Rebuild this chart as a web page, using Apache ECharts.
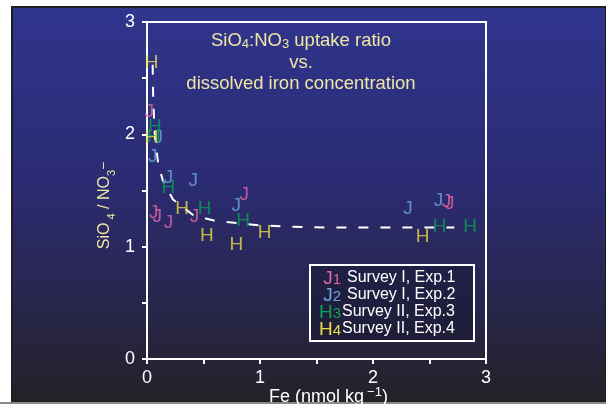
<!DOCTYPE html>
<html>
<head>
<meta charset="utf-8">
<script src="https://cdn.jsdelivr.net/npm/echarts@6/dist/echarts.min.js"></script>
<style>
html,body{margin:0;padding:0;background:#fff;}
#c{width:606px;height:404px;}
</style>
</head>
<body>
<div id="c"></div>
<script>
// ---- data ----
var xTicks = [0, 1, 2, 3];
var yTicks = [0, 1, 2, 3];
var j1X = [0.02, 0.06, 0.09, 0.19, 0.42, 0.86, 2.65, 2.68];
var j1Y = [2.20, 1.30, 1.27, 1.21, 1.27, 1.46, 1.40, 1.38];
var j2X = [0.10, 0.05, 0.19, 0.41, 0.79, 2.31, 2.58];
var j2Y = [1.97, 1.80, 1.61, 1.59, 1.36, 1.34, 1.41];
var h3X = [0.07, 0.06, 0.19, 0.51, 0.85, 2.59, 2.86];
var h3Y = [2.07, 1.98, 1.52, 1.34, 1.23, 1.18, 1.18];
var h4X = [0.04, 0.04, 0.31, 0.53, 0.79, 1.04, 2.44];
var h4Y = [2.64, 1.97, 1.34, 1.10, 1.02, 1.12, 1.09];
var fitX = [0.05, 0.055, 0.07, 0.10, 0.14, 0.23, 0.41, 0.60, 0.80, 1.00, 1.20, 1.60, 2.00, 2.40, 2.72];
var fitY = [2.62, 2.30, 1.98, 1.73, 1.59, 1.42, 1.28, 1.23, 1.21, 1.19, 1.18, 1.17, 1.17, 1.17, 1.17];
var legendLetters = ['J', 'J', 'H', 'H'];
var legendNums = ['1', '2', '3', '4'];
var legendTexts = ['Survey I, Exp.1', 'Survey I, Exp.2', 'Survey II, Exp.3', 'Survey II, Exp.4'];
var colors = ['#e067a2', '#6ea6dc', '#0aa055', '#ecdc44'];

function pairs(xs, ys) { return xs.map(function (x, i) { return [x, ys[i]]; }); }

var FONT = 'Liberation Sans, Arial, Helvetica, sans-serif';
var titleColor = '#efe6a4';

function markerSeries(name, xs, ys, letter, color) {
  return {
    name: name, type: 'scatter', data: pairs(xs, ys),
    symbol: 'circle', symbolSize: 1, itemStyle: { color: 'rgba(0,0,0,0)' },
    label: { show: true, position: 'inside', formatter: letter, color: color,
      fontSize: 19, fontFamily: FONT },
    labelLayout: { hideOverlap: false },
    z: 5
  };
}

var legendGraphics = [];
var rowY = [278, 295, 312, 329];
var textX = [347, 347, 342, 342];
for (var i = 0; i < 4; i++) {
  legendGraphics.push({
    type: 'text', x: 341, y: rowY[i],
    style: { text: '{m|' + legendLetters[i] + '}{s|' + legendNums[i] + '}',
      align: 'right', verticalAlign: 'middle',
      rich: {
        m: { fontSize: 19, fontFamily: FONT, fill: colors[i], lineHeight: 18, verticalAlign: 'top' },
        s: { fontSize: 15, fontFamily: FONT, fill: colors[i], lineHeight: 10, verticalAlign: 'bottom' }
      } },
    z: 10
  });
  legendGraphics.push({
    type: 'text', x: textX[i], y: rowY[i],
    style: { text: legendTexts[i], fill: '#ffffff', fontSize: 16, fontFamily: FONT,
      align: 'left', verticalAlign: 'middle' },
    z: 10
  });
}

var chart = echarts.init(document.getElementById('c'), null, { renderer: 'canvas' });
chart.setOption({
  animation: false,
  backgroundColor: 'transparent',
  grid: { left: 147, right: 120, top: 22, bottom: 45, containLabel: false, outerBoundsMode: 'none',
    show: true, borderColor: '#ffffff', borderWidth: 2, backgroundColor: 'transparent' },
  xAxis: {
    type: 'value', min: 0, max: 3, interval: 0.5,
    axisLine: { show: true, lineStyle: { color: '#ffffff', width: 2 } },
    axisTick: { show: true, length: 5, lineStyle: { color: '#ffffff', width: 2 } },
    axisLabel: { color: '#ffffff', fontSize: 18, fontFamily: FONT, margin: 10,
      formatter: function (v) { return xTicks.indexOf(v) >= 0 ? String(v) : ''; } },
    splitLine: { show: false },
    name: '{f|Fe (nmol kg}{p|\u22121}{n|)}', nameLocation: 'middle', nameGap: 27, nameMoveOverlap: false,
    nameTextStyle: { color: '#ffffff', rich: {
      f: { fontSize: 18, fontFamily: FONT, color: '#ffffff', lineHeight: 20, verticalAlign: 'bottom', padding: [0, 0, 0, 24] },
      n: { fontSize: 18, fontFamily: FONT, color: '#ffffff', lineHeight: 20, verticalAlign: 'bottom' },
      p: { fontSize: 13, fontFamily: FONT, color: '#ffffff', lineHeight: 10, verticalAlign: 'top', padding: [0, 0, 0, 3] }
    } }
  },
  yAxis: {
    type: 'value', min: 0, max: 3, interval: 0.5,
    axisLine: { show: true, lineStyle: { color: '#ffffff', width: 2 } },
    axisTick: { show: true, length: 5, lineStyle: { color: '#ffffff', width: 2 } },
    axisLabel: { color: '#ffffff', fontSize: 18, fontFamily: FONT, margin: 12,
      formatter: function (v) { return yTicks.indexOf(v) >= 0 ? String(v) : ''; } },
    splitLine: { show: false },
    name: '{n|SiO}{s| 4}{n| / NO}{s|3}{p|\u2212}', nameLocation: 'middle', nameGap: 30, nameRotate: 90,
    nameMoveOverlap: false,
    nameTextStyle: { color: titleColor, rich: {
      n: { fontSize: 16, fontFamily: FONT, color: titleColor, lineHeight: 20, verticalAlign: 'top' },
      s: { fontSize: 11, fontFamily: FONT, color: titleColor, lineHeight: 10, verticalAlign: 'bottom' },
      p: { fontSize: 14, fontFamily: FONT, color: titleColor, lineHeight: 12, verticalAlign: 'top', padding: [0, 30, 0, 0] }
    } }
  },
  series: [
    { name: 'fit', type: 'line', data: pairs(fitX, fitY), showSymbol: false, symbol: 'none',
      lineStyle: { color: '#ffffff', width: 2, type: [10, 12] }, z: 3 },
    markerSeries('Survey I, Exp.1', j1X, j1Y, 'J', colors[0]),
    markerSeries('Survey I, Exp.2', j2X, j2Y, 'J', colors[1]),
    markerSeries('Survey II, Exp.3', h3X, h3Y, 'H', colors[2]),
    markerSeries('Survey II, Exp.4', h4X, h4Y, 'H', colors[3])
  ],
  graphic: [
    { type: 'rect', shape: { x: 12, y: 7, width: 594, height: 395 }, z: -10, silent: true,
      style: { fill: { type: 'linear', x: 0, y: 0, x2: 0, y2: 1, colorStops: [
        { offset: 0, color: '#30358e' }, { offset: 0.45, color: '#2b2b72' },
        { offset: 0.75, color: '#28264c' }, { offset: 1, color: '#242128' }] },
        stroke: '#1e1e22', lineWidth: 2 } },
    { type: 'rect', shape: { x: 0, y: 402, width: 606, height: 2 }, z: -9, silent: true,
      style: { fill: '#8a8a8a' } },
    { type: 'rect', shape: { x: 310, y: 265, width: 164, height: 76 }, z: 8, silent: true,
      style: { fill: 'rgba(18,16,40,0.35)', stroke: '#ffffff', lineWidth: 2 } },
    { type: 'text', x: 301, y: 41, z: 10,
      style: { text: '{n|SiO}{s|4}{n|:NO}{s|3}{n| uptake ratio}', align: 'center', verticalAlign: 'middle',
        rich: {
          n: { fontSize: 18.5, fontFamily: FONT, fill: titleColor, lineHeight: 20, verticalAlign: 'top' },
          s: { fontSize: 13, fontFamily: FONT, fill: titleColor, lineHeight: 10, verticalAlign: 'bottom' }
        } } },
    { type: 'text', x: 301, y: 63, z: 10,
      style: { text: 'vs.', align: 'center', verticalAlign: 'middle', fontSize: 18.5, fontFamily: FONT, fill: titleColor } },
    { type: 'text', x: 301, y: 84, z: 10,
      style: { text: 'dissolved iron concentration', align: 'center', verticalAlign: 'middle', fontSize: 18.5, fontFamily: FONT, fill: titleColor } }
  ].concat(legendGraphics)
});
</script>
</body>
</html>
